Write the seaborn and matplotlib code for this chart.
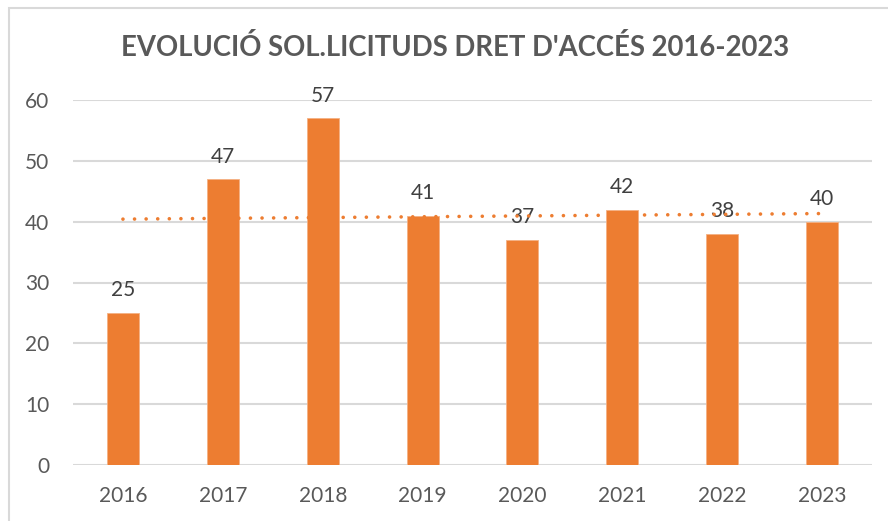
import numpy as np
import pandas as pd
import matplotlib.pyplot as plt
from matplotlib.patches import Rectangle
import seaborn as sns

# chart data
years = ["2016", "2017", "2018", "2019", "2020", "2021", "2022", "2023"]
requests = [25, 47, 57, 41, 37, 42, 38, 40]
title = "EVOLUCIÓ SOL.LICITUDS DRET D'ACCÉS 2016-2023"

ORANGE = "#ED7D31"
GRID = "#D9D9D9"
TEXT = "#595959"

sns.set_theme(style="white")
plt.rcParams["font.family"] = ["Lato", "DejaVu Sans"]

df = pd.DataFrame({"year": years, "requests": requests})
df["pos"] = np.arange(len(df))

fig = plt.figure(figsize=(8.88, 5.21), dpi=100)
ax = fig.add_axes([73 / 888, 1 - 465 / 521, (872 - 73) / 888, (465 - 100) / 521])

sns.barplot(data=df, x="year", y="requests", color=ORANGE, saturation=1,
            width=0.32, ax=ax, zorder=2)
for p in ax.patches:
    p.set_edgecolor("#F4B183")
    p.set_linewidth(0.6)

ax.bar_label(ax.containers[0], padding=9, fontsize=15, color="#404040")

# linear trendline
sns.regplot(data=df, x="pos", y="requests", scatter=False, ci=None, ax=ax,
            line_kws={"color": ORANGE, "lw": 2.6, "linestyle": (0, (0.01, 3.2)),
                      "dash_capstyle": "round", "zorder": 3})

ax.set_xlim(-0.5, 7.5)
ax.set_ylim(0, 60)
ax.set_yticks(range(0, 61, 10))
ax.set_xticks(range(len(years)))
ax.set_xticklabels(years)
ax.grid(axis="y", color=GRID, lw=1.5, zorder=0)
ax.set_axisbelow(True)
for s in ax.spines.values():
    s.set_visible(False)
ax.tick_params(axis="both", length=0, labelsize=15, labelcolor=TEXT)
ax.tick_params(axis="x", pad=15)
ax.tick_params(axis="y", pad=17)
ax.set_xlabel("")
ax.set_ylabel("")

fig.text(0.512, 1 - 48 / 521, title, ha="center", va="center",
         fontsize=19.8, fontweight="bold", color=TEXT)

# chart border
fig.add_artist(Rectangle((9 / 888, -0.1), 1.0, 1 - 8 / 521 + 0.1,
                         transform=fig.transFigure, fill=False,
                         edgecolor=GRID, lw=1.5))

fig.savefig("out.png", dpi=100)
